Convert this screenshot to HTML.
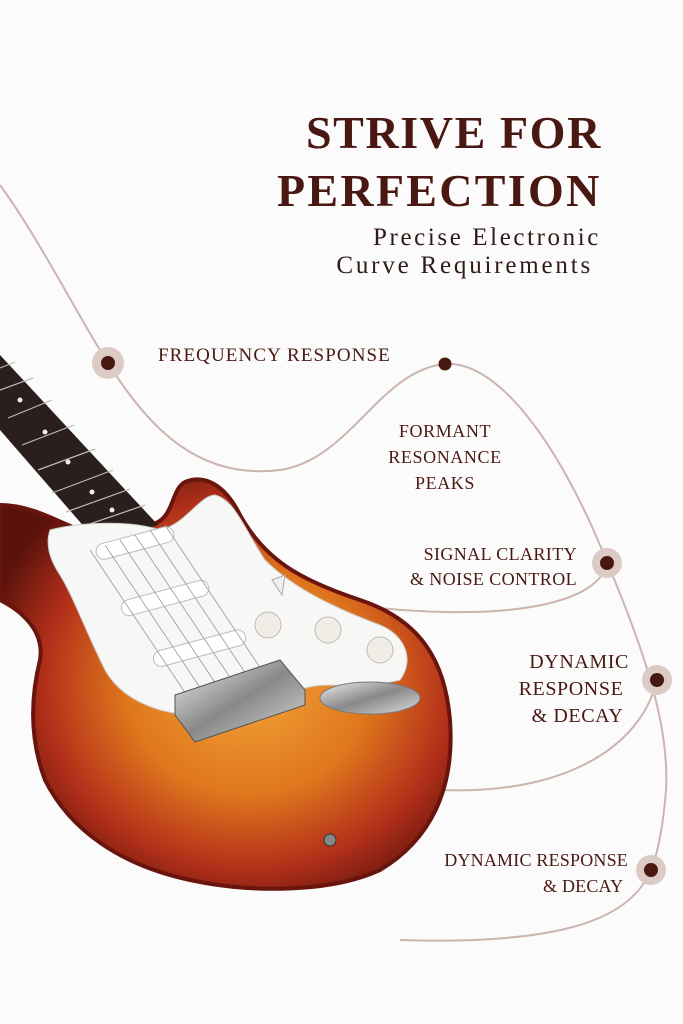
<!DOCTYPE html>
<html><head><meta charset="utf-8"><style>
html,body{margin:0;padding:0;background:#fcfbfb;}
.w{position:relative;width:683px;height:1024px;overflow:hidden;background:#fcfbfb;font-family:"Liberation Serif",serif;color:#4a1812;}
.t{position:absolute;white-space:nowrap;}
</style></head><body><div class="w">
<svg width="683" height="1024" style="position:absolute;left:0;top:0">
<defs>
<radialGradient id="bd" cx="0.55" cy="0.5" r="0.6">
<stop offset="0" stop-color="#f2a43a"/><stop offset="0.45" stop-color="#e0771d"/><stop offset="0.75" stop-color="#b3301a"/><stop offset="1" stop-color="#5a120c"/>
</radialGradient>
<linearGradient id="ch" x1="0" y1="0" x2="1" y2="1"><stop offset="0" stop-color="#eee"/><stop offset="0.5" stop-color="#888"/><stop offset="1" stop-color="#ddd"/></linearGradient>
</defs>
<g fill="none" stroke="#cbb5ae" stroke-width="2">
<path d="M0,185 C40,240 80,320 108,363 C150,430 200,480 280,470 C350,460 380,370 445,364 C500,360 560,450 600,545 C640,640 670,720 666,790 C662,840 655,860 651,870"/>
<path d="M607,563 C600,600 520,625 350,605"/>
<path d="M657,680 C640,750 560,795 440,790"/>
<path d="M651,870 C630,920 560,945 400,940"/>
</g>
<circle cx="108" cy="363" r="16" fill="#dccbc5"/><circle cx="108" cy="363" r="7" fill="#4a1812"/>
<circle cx="445" cy="364" r="6.5" fill="#4a1812"/>
<circle cx="607" cy="563" r="15" fill="#dccbc5"/><circle cx="607" cy="563" r="7" fill="#4a1812"/>
<circle cx="657" cy="680" r="15" fill="#dccbc5"/><circle cx="657" cy="680" r="7" fill="#4a1812"/>
<circle cx="651" cy="870" r="15" fill="#dccbc5"/><circle cx="651" cy="870" r="7" fill="#4a1812"/>
<path d="M0,505 C30,505 55,520 75,528 L150,525 C175,520 170,490 185,482 C205,474 225,485 240,515 C265,560 300,580 360,600 C420,620 445,660 450,720 C455,790 430,840 380,870 C330,893 250,893 190,880 C120,865 70,830 45,780 C30,740 30,700 40,660 C45,630 20,610 0,600 Z" fill="url(#bd)" stroke="#6a140e" stroke-width="4"/>
<path d="M0,355 L0,430 L100,545 L158,525 Z" fill="#2a1f1c"/>
<g stroke="#bbb" stroke-width="1.2">
<line x1="0" y1="368" x2="15" y2="362"/><line x1="0" y1="390" x2="33" y2="378"/><line x1="8" y1="418" x2="52" y2="400"/><line x1="22" y1="445" x2="74" y2="425"/><line x1="38" y1="470" x2="95" y2="449"/><line x1="52" y1="493" x2="113" y2="470"/><line x1="66" y1="512" x2="130" y2="489"/><line x1="78" y1="528" x2="145" y2="505"/>
</g>
<g fill="#eee"><circle cx="20" cy="400" r="2.5"/><circle cx="45" cy="432" r="2.5"/><circle cx="68" cy="462" r="2.5"/><circle cx="92" cy="492" r="2.5"/><circle cx="112" cy="510" r="2.5"/></g>
<path d="M50,530 C80,522 130,520 160,530 C185,525 200,495 215,495 C235,500 245,530 265,560 C295,590 340,610 380,625 C405,635 415,660 400,680 C360,690 320,680 300,690 C290,705 270,715 230,715 C170,720 125,705 105,670 C85,630 75,600 60,575 C50,560 45,545 50,530 Z" fill="#f7f7f5" stroke="#ccc" stroke-width="1"/>
<g fill="#fff" stroke="#bbb"><rect x="95" y="535" width="80" height="16" rx="8" transform="rotate(-15 135 543)"/><rect x="120" y="590" width="90" height="16" rx="8" transform="rotate(-15 165 598)"/><rect x="152" y="640" width="95" height="16" rx="8" transform="rotate(-15 200 648)"/></g>
<g stroke="#999" stroke-width="0.8"><line x1="90" y1="550" x2="190" y2="700"/><line x1="105" y1="545" x2="205" y2="695"/><line x1="120" y1="540" x2="220" y2="690"/><line x1="135" y1="535" x2="235" y2="685"/><line x1="150" y1="530" x2="250" y2="680"/><line x1="165" y1="525" x2="265" y2="675"/></g>
<g fill="#f1ece6" stroke="#bbb"><circle cx="268" cy="625" r="13"/><circle cx="328" cy="630" r="13"/><circle cx="380" cy="650" r="13"/></g>
<path d="M272,580 L285,575 L282,595 Z" fill="#eee" stroke="#aaa"/>
<path d="M175,695 L280,660 L305,690 L305,705 L195,742 L175,715 Z" fill="url(#ch)" stroke="#555"/>
<ellipse cx="370" cy="698" rx="50" ry="16" fill="url(#ch)" stroke="#777"/>
<circle cx="330" cy="840" r="6" fill="#888" stroke="#333"/>
</svg>
<div class="t" style="left:306px;top:106px;font-size:46px;font-weight:bold;letter-spacing:1.6px">STRIVE FOR</div>
<div class="t" style="left:277px;top:164px;font-size:46px;font-weight:bold;letter-spacing:2.3px">PERFECTION</div>
<div class="t" style="right:82px;top:224px;font-size:25px;color:#2f1a17;letter-spacing:2.6px">Precise Electronic</div>
<div class="t" style="right:90px;top:252px;font-size:25px;color:#2f1a17;letter-spacing:2.8px">Curve Requirements</div>
<div class="t" style="left:158px;top:345px;font-size:19px;letter-spacing:1.1px">FREQUENCY RESPONSE</div>
<div class="t" style="left:375px;top:418px;width:140px;text-align:center;font-size:18px;line-height:26px;letter-spacing:0.6px;white-space:normal">FORMANT<br>RESONANCE<br>PEAKS</div>
<div class="t" style="right:106px;top:542px;text-align:right;font-size:18px;line-height:25px;letter-spacing:0.4px">SIGNAL CLARITY<br>&amp; NOISE CONTROL</div>
<div class="t" style="right:54px;top:649px;text-align:right;font-size:20px;line-height:27px;letter-spacing:0.6px">DYNAMIC<br>RESPONSE&nbsp;<br>&amp; DECAY&nbsp;</div>
<div class="t" style="right:55px;top:847px;text-align:right;font-size:18px;line-height:26px;letter-spacing:0.2px">DYNAMIC RESPONSE<br>&amp; DECAY&nbsp;</div>
</div></body></html>
